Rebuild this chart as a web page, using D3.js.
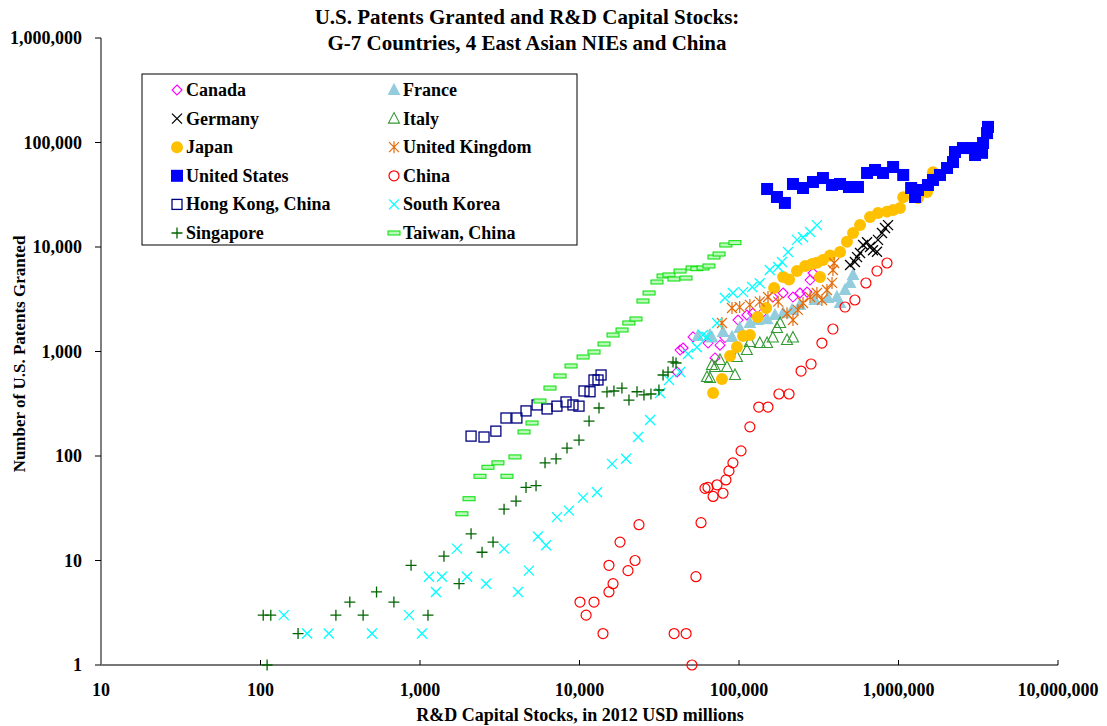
<!DOCTYPE html>
<html>
<head>
<meta charset="utf-8">
<script src="https://cdn.jsdelivr.net/npm/d3@7"></script>
<style>
  body { margin: 0; background: #fff; }
  text { font-family: "Liberation Serif", "Times New Roman", serif; font-weight: bold; fill: #000; }
</style>
</head>
<body>
<svg width="1107" height="726"></svg>
<script>
// [R&D capital stock (2012 USD millions), US patents granted]
var canada = [[40900,637],[42700,1033],[44600,1080],[51500,1380],[64000,1205],[70700,867],[76000,1150],[81600,1360],[98600,2000],[112000,2235],[122000,2320],[142000,2390],[163000,3320],[189000,3630],[218000,3320],[241000,3630],[267000,3700],[279000,4830],[291000,5640],[300000,7030]];
var france = [[55300,1406],[65800,1438],[67700,1360],[79400,1537],[90400,1380],[101000,1679],[117000,1875],[131000,2001],[150000,2040],[168000,2235],[189000,2320],[215000,2496],[241000,2790],[299000,3110],[361000,3250],[411000,3320],[430000,2910],[462000,3880],[497000,4530],[519000,5400]];
var germany = [[497000,6730],[533000,7180],[550000,8000],[574000,8770],[600000,10450],[635000,11100],[663000,10000],[692000,9300],[733000,9000],[744000,11700],[788000,13600],[823000,15200],[860000,16200]];
var italy = [[63000,570],[65800,557],[67700,742],[70700,711],[76000,829],[84100,711],[94400,596],[97100,886],[112000,1033],[117000,1233],[135000,1205],[150000,1205],[163000,1360],[173000,1680],[181000,1875],[200000,1290],[218000,1360]];
var japan = [[68800,401],[78200,545],[87900,906],[97100,1105],[106000,1406],[117000,1438],[131000,2138],[148000,2608],[166000,4050],[189000,5160],[206000,4890],[231000,5890],[260000,6580],[287000,6890],[308000,7050],[322000,5160],[336000,7510],[372000,8300],[430000,8960],[475000,11200],[519000,13600],[574000,16200],[663000,19400],[744000,21200],[847000,21800],[925000,22600],[1021000,23600],[1070000,30000],[1325000,29400],[1510000,33600],[1645000,51800]];
var uk = [[78200,1875],[90400,2608],[101000,2660],[117000,2790],[135000,3000],[152000,3320],[176000,3000],[200000,2320],[218000,2000],[234000,2500],[252000,2910],[279000,3320],[308000,3630],[331000,3110],[356000,3880],[383000,4530],[388000,6020],[395000,7030]];
var usa = [[150000,35900],[173000,30100],[194000,26400],[218000,40100],[252000,36700],[291000,41900],[336000,45700],[383000,39200],[430000,40100],[489000,37500],[557000,37500],[635000,51100],[713000,54600],[800000,51100],[925000,58300],[1070000,48900],[1200000,36700],[1270000,30100],[1324000,35100],[1530000,39200],[1645000,43800],[1820000,48900],[2015000,57000],[2197000,65000],[2260000,81100],[2535000,88500],[2890000,88500],[3020000,75900],[3340000,79600],[3390000,98900],[3590000,123000],[3640000,141000]];
var china = [[10070,4],[11000,3],[12330,4],[14040,2],[15300,5],[16230,6],[15300,9],[17950,15],[20140,8],[22300,10],[23600,22],[39200,2],[46600,2],[50700,1],[53700,7],[57800,23],[61200,49],[63900,50],[68800,41],[72800,53],[79400,44],[82800,59],[86500,72],[91600,86],[103000,112],[117000,190],[133000,294],[152000,294],[178000,392],[206000,392],[245000,650],[283000,759],[331000,1205],[388000,1641],[462000,2665],[533000,3110],[625000,4525],[733000,5890],[847000,7030]];
var hongKong = [[2090,155],[2520,152],[2990,173],[3460,231],[4050,231],[4620,270],[5420,308],[6260,282],[7220,300],[8230,329],[9100,308],[9930,300],[10670,419],[11640,412],[12330,534],[13060,534],[13650,596]];
var southKorea = [[140,3],[196,2],[268,2],[500,2],[853,3],[1029,2],[1138,7],[1259,5],[1374,7],[1706,13],[1972,7],[2594,6],[3365,13],[4115,5],[4820,8],[5490,17],[6170,14],[7220,26],[8590,30],[10520,40],[12880,45],[16000,84],[19590,94],[23300,152],[27700,221],[32000,401],[36400,534],[42700,637],[47900,946],[54500,1100],[59400,1438],[63000,1376],[72800,1875],[81600,3250],[91600,3630],[106000,3700],[121000,4140],[135000,4500],[156000,6020],[176000,6440],[186000,7180],[203000,8960],[231000,11700],[252000,12400],[279000,13900],[308000,16200]];
var singapore = [[110,1],[104,3],[116,3],[172,2],[297,3],[363,4],[440,3],[534,5],[686,4],[879,9],[1122,3],[1413,11],[1758,6],[2090,18],[2449,12],[2870,15],[3365,31],[4000,37],[4620,50],[5340,52],[6080,86],[7130,94],[8350,119],[9930,142],[11480,216],[13250,288],[14870,410],[16440,419],[18450,447],[20420,343],[22940,412],[25360,384],[28050,392],[31480,428],[33400,596],[35900,636],[38570,794],[40290,776]];
var taiwan = [[1832,28],[2030,39],[2377,64],[2667,78],[3080,86],[3510,64],[3940,98],[4490,170],[5040,207],[5650,336],[6530,447],[7550,583],[8850,727],[10530,886],[12330,989],[14250,1180],[16230,1438],[18480,1606],[20400,1875],[22600,2047],[25000,3042],[27300,3630],[30600,4625],[33400,5280],[36400,5400],[39100,4940],[42700,5890],[46500,5050],[50800,6300],[54500,6200],[59500,6300],[64800,6580],[69700,8020],[75000,8570],[82700,10450],[94300,11000]];

var xTicks = [10, 100, 1000, 10000, 100000, 1000000, 10000000];
var yTicks = [1, 10, 100, 1000, 10000, 100000, 1000000];

var series = [
    {name: "Canada", data: canada, shape: "diamond", color: "#ff00ff"},
    {name: "France", data: france, shape: "triFill", color: "#93cddd"},
    {name: "Germany", data: germany, shape: "x", color: "#000000"},
    {name: "Italy", data: italy, shape: "tri", color: "#339933"},
    {name: "Japan", data: japan, shape: "circleFill", color: "#ffc000"},
    {name: "United Kingdom", data: uk, shape: "star", color: "#e46c0a"},
    {name: "United States", data: usa, shape: "squareFill", color: "#0000ff"},
    {name: "China", data: china, shape: "circle", color: "#ff0000"},
    {name: "Hong Kong, China", data: hongKong, shape: "square", color: "#000080"},
    {name: "South Korea", data: southKorea, shape: "x", color: "#00ffff"},
    {name: "Singapore", data: singapore, shape: "plus", color: "#006400"},
    {name: "Taiwan, China", data: taiwan, shape: "dash", color: "#00e000"}
];

var svg = d3.select("svg");
var x = d3.scaleLog().domain([10, 1e7]).range([101, 1058]);
var y = d3.scaleLog().domain([1, 1e6]).range([665, 38]);
var fmt = d3.format(",");

function drawMarker(g, shape, color) {
    if (shape == "diamond") {
        g.append("path").attr("d", "M0,-5L5,0L0,5L-5,0Z")
            .attr("fill", "none").attr("stroke", color).attr("stroke-width", 1.1);
    } else if (shape == "triFill" || shape == "tri") {
        g.append("path").attr("d", "M0,-6L5.5,4.5L-5.5,4.5Z")
            .attr("fill", shape == "triFill" ? color : "none")
            .attr("stroke", color).attr("stroke-width", 1.1);
    } else if (shape == "x") {
        g.append("path").attr("d", "M-5,-5L5,5M-5,5L5,-5")
            .attr("stroke", color).attr("stroke-width", 1.3);
    } else if (shape == "circleFill") {
        g.append("circle").attr("r", 6).attr("fill", color);
    } else if (shape == "circle") {
        g.append("circle").attr("r", 5).attr("fill", "none")
            .attr("stroke", color).attr("stroke-width", 1.2);
    } else if (shape == "star") {
        g.append("path").attr("d", "M-5,-5L5,5M-5,5L5,-5M0,-6L0,6")
            .attr("stroke", color).attr("stroke-width", 1.2);
    } else if (shape == "squareFill") {
        g.append("rect").attr("x", -6).attr("y", -6).attr("width", 12).attr("height", 12)
            .attr("fill", color);
    } else if (shape == "square") {
        g.append("rect").attr("x", -5).attr("y", -5).attr("width", 10).attr("height", 10)
            .attr("fill", "none").attr("stroke", color).attr("stroke-width", 1.3);
    } else if (shape == "plus") {
        g.append("path").attr("d", "M-5.5,0L5.5,0M0,-5.5L0,5.5")
            .attr("stroke", color).attr("stroke-width", 1.3);
    } else if (shape == "dash") {
        g.append("rect").attr("x", -6).attr("y", -2).attr("width", 12).attr("height", 4)
            .attr("fill", "#b8f8b8").attr("stroke", color).attr("stroke-width", 1);
    }
}

// axes
var axisG = svg.append("g");
axisG.append("line").attr("x1", 101).attr("x2", 101).attr("y1", 38).attr("y2", 665)
    .attr("stroke", "#000").attr("stroke-width", 1);
axisG.append("line").attr("x1", 101).attr("x2", 1058).attr("y1", 665).attr("y2", 665)
    .attr("stroke", "#777").attr("stroke-width", 2);

axisG.selectAll(".ytick").data(yTicks).enter().append("line")
    .attr("x1", 95).attr("x2", 101)
    .attr("y1", function(d){ return y(d); }).attr("y2", function(d){ return y(d); })
    .attr("stroke", "#000");
axisG.selectAll(".ylab").data(yTicks).enter().append("text")
    .attr("x", 82).attr("y", function(d){ return y(d) + 6; })
    .attr("text-anchor", "end").style("font-size", "18px")
    .text(function(d){ return fmt(d); });

axisG.selectAll(".xtick").data(xTicks.slice(1)).enter().append("line")
    .attr("x1", function(d){ return x(d); }).attr("x2", function(d){ return x(d); })
    .attr("y1", 660).attr("y2", 665)
    .attr("stroke", "#000");
axisG.selectAll(".xlab").data(xTicks).enter().append("text")
    .attr("x", function(d){ return x(d); }).attr("y", 696)
    .attr("text-anchor", "middle").style("font-size", "18px")
    .text(function(d){ return fmt(d); });

svg.append("text").attr("x", 580).attr("y", 721).attr("text-anchor", "middle")
    .style("font-size", "18px").text("R&D Capital Stocks, in 2012 USD millions");
svg.append("text").attr("transform", "translate(25,354) rotate(-90)").attr("text-anchor", "middle")
    .style("font-size", "17px").text("Number of U.S. Patents Granted");

svg.append("text").attr("x", 527).attr("y", 24).attr("text-anchor", "middle")
    .style("font-size", "21px").text("U.S. Patents Granted and R&D Capital Stocks:");
svg.append("text").attr("x", 527).attr("y", 50).attr("text-anchor", "middle")
    .style("font-size", "21px").text("G-7 Countries, 4 East Asian NIEs and China");

// points
series.forEach(function(s){
    var gs = svg.append("g").attr("class", "series");
    s.data.forEach(function(d){
        var g = gs.append("g").attr("transform", "translate(" + x(d[0]) + "," + y(d[1]) + ")");
        drawMarker(g, s.shape, s.color);
    });
});

// legend
var legend = svg.append("g");
legend.append("rect").attr("x", 142).attr("y", 74).attr("width", 435).attr("height", 171)
    .attr("fill", "#fff").attr("stroke", "#000").attr("stroke-width", 1);
series.forEach(function(s, i){
    var col = i % 2, row = Math.floor(i / 2);
    var lx = col == 0 ? 177 : 394, ly = 90 + row * 28.6;
    var g = legend.append("g").attr("transform", "translate(" + lx + "," + ly + ")");
    drawMarker(g, s.shape, s.color);
    legend.append("text").attr("x", lx + 9).attr("y", ly + 6)
        .style("font-size", "18px").text(s.name);
});
</script>
</body>
</html>
